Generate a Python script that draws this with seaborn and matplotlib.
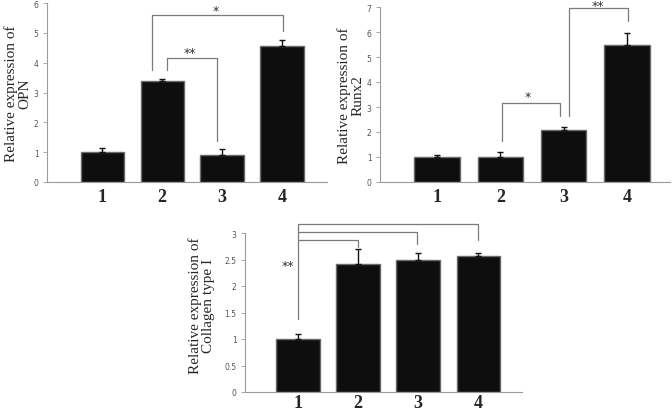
import numpy as np
import pandas as pd
import seaborn as sns
import matplotlib.pyplot as plt

sns.set_theme(style="white")
plt.rcParams['font.family'] = ['DejaVu Sans']

groups = ["1", "2", "3", "4"]

opn_vals = [1.0, 3.4, 0.92, 4.55]
opn_err = [0.15, 0.05, 0.17, 0.22]

runx2_vals = [1.0, 1.0, 2.1, 5.48]
runx2_err = [0.08, 0.2, 0.1, 0.5]

col1_vals = [1.0, 2.42, 2.5, 2.57]
col1_err = [0.1, 0.27, 0.13, 0.06]

# brackets: (x_left, x_right, y_top, y_left_bottom, y_right_bottom, label, label_x, label_y)
opn_brackets = [
    (1.08, 1.92, 4.16, 3.76, 1.38, "**", 1.47, 4.33),
    (0.83, 3.02, 5.60, 3.76, 5.07, "*", 1.90, 5.74),
]
runx2_brackets = [
    (1.02, 1.94, 3.16, 1.64, 2.64, "*", 1.44, 3.42),
    (2.08, 3.02, 6.96, 2.64, 6.44, "**", 2.54, 7.06),
]
# collagen: shared left leg from group 1
col1_left_bottom = 1.38
col1_targets = [1.0, 1.98, 3.0]
col1_tops = [2.87, 3.02, 3.17]
col1_drops = [2.74, 2.79, 2.87]

bar_face = "#0e0e0e"
bar_edge = "#6a6a6a"
line_grey = "#7a7a7a"

fig = plt.figure(figsize=(6.72, 4.14), dpi=100)
W, H = 672, 414


def add_axes(left, right, top, bottom):
    return fig.add_axes([left / W, (H - bottom) / H, (right - left) / W, (bottom - top) / H])


def draw_panel(ax, vals, err, ymax, yticks, xlim, ylabel, label_x, label_y=0.5, xpad=4):
    df = pd.DataFrame({"group": groups, "value": vals})
    sns.barplot(data=df, x="group", y="value", color=bar_face, width=0.72,
                edgecolor=bar_edge, linewidth=1.0, saturation=1, errorbar=None, ax=ax)
    for p in ax.patches:
        p.set_facecolor(bar_face)
    ax.errorbar(np.arange(len(vals)), vals, yerr=[np.zeros(len(err)), err],
                fmt="none", ecolor="#111111", elinewidth=1.0, capsize=2.5, capthick=1.0)
    ax.set_xlim(*xlim)
    ax.set_ylim(0, ymax)
    ax.set_yticks(yticks)
    ax.set_yticklabels([f"{t:g}" for t in yticks])
    ax.set_xlabel("")
    ax.set_ylabel("")
    for s in ["top", "right"]:
        ax.spines[s].set_visible(False)
    for s in ["left", "bottom"]:
        ax.spines[s].set_color("#9a9a9a")
        ax.spines[s].set_linewidth(0.8)
    ax.tick_params(axis="y", direction="out", length=3, width=0.6, color="#9a9a9a",
                   labelsize=5.5, labelcolor="#555555", pad=3, left=True)
    ax.tick_params(axis="x", length=0, pad=xpad)
    for t in ax.get_xticklabels():
        t.set_fontfamily("Liberation Serif")
        t.set_fontweight("bold")
        t.set_fontsize(13)
    ax.text(label_x, label_y, ylabel, transform=ax.transAxes, rotation=90,
            ha="center", va="center", multialignment="center",
            fontsize=11, family="Liberation Serif", linespacing=1.0)


def draw_bracket(ax, b):
    xl, xr, yt, ylb, yrb, lab, lx, ly = b
    ax.plot([xl, xl, xr, xr], [ylb, yt, yt, yrb], color=line_grey, lw=0.9, clip_on=False)
    ax.text(lx, ly, lab, ha="center", va="center", fontsize=9, color="#333333")


ax1 = add_axes(47, 327, 4, 183)
draw_panel(ax1, opn_vals, opn_err, 6, range(0, 7), (-0.92, 3.75),
           "Relative expression of\nOPN", -0.105)
for b in opn_brackets:
    draw_bracket(ax1, b)

ax2 = add_axes(380, 670, 8, 183)
draw_panel(ax2, runx2_vals, runx2_err, 7, range(0, 8), (-0.9, 3.68),
           "Relative expression of\nRunx2", -0.1)
for b in runx2_brackets:
    draw_bracket(ax2, b)

ax3 = add_axes(245, 522, 234, 393)
draw_panel(ax3, col1_vals, col1_err, 3, np.arange(0, 3.01, 0.5), (-0.88, 3.73),
           "Relative expression of\nCollagen type I", -0.155, 0.55, xpad=1.5)
ax3.plot([0, 0], [col1_left_bottom, max(col1_tops)], color=line_grey, lw=0.9, clip_on=False)
for xt, yt, yd in zip(col1_targets, col1_tops, col1_drops):
    ax3.plot([0, xt, xt], [yt, yt, yd], color=line_grey, lw=0.9, clip_on=False)
ax3.text(-0.17, 2.38, "**", ha="center", va="center", fontsize=9, color="#333333")

fig.savefig("out.png", dpi=100, facecolor="white")
